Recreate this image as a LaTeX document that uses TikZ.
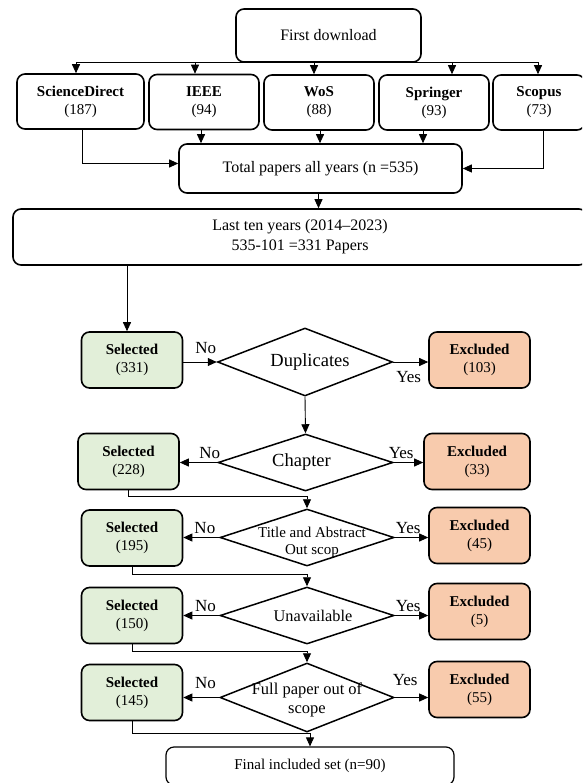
\documentclass[tikz,border=0pt]{standalone}
\usepackage{fontspec}
\setmainfont{Liberation Serif}
\usepackage{xcolor}
\usepackage{tikz}
\usetikzlibrary{arrows.meta,positioning,calc,shapes.geometric}
\definecolor{selgreen}{RGB}{226,239,217}
\definecolor{excorange}{RGB}{248,203,173}
\tikzset{
  box/.style={draw=black, line width=1.6pt, rounded corners=8pt, fill=white, align=center,
    inner sep=0pt, font=\fontsize{16}{20}\selectfont},
  src/.style={box, minimum width=110pt, minimum height=55pt, font=\fontsize{15}{18}\selectfont},
  sel/.style={box, fill=selgreen, minimum width=101pt, minimum height=56pt, font=\fontsize{15}{18}\selectfont},
  exc/.style={box, fill=excorange, minimum width=101pt, minimum height=56pt, font=\fontsize{15}{18}\selectfont},
  % decision diamonds
  decision/.style={draw=black, line width=1.5pt, diamond, inner sep=0pt, fill=white,
    minimum width=175pt, minimum height=57pt},
  dtext/.style={font=\fontsize{18.5}{20}\selectfont, align=center, inner sep=0pt},
  arr/.style={draw=black, line width=0.9pt, -{Triangle[length=9pt,width=8pt]}},
  lbl/.style={font=\fontsize{17}{18}\selectfont, inner sep=3pt}
}
\begin{document}
\begin{tikzpicture}[x=1pt, y=-1pt]
    \useasboundingbox (0,0) rectangle (582,783);
    \clip (0,0) rectangle (582,783);
    % sources
    \node[box, minimum width=185pt, minimum height=53pt] (first) at (328.5,35.5) {First download};
    \node[src, minimum width=127pt] (sd) at (80.5,101.5) {\textbf{ScienceDirect}\\(187)};
    \node[src] (ieee) at (204,102) {\textbf{IEEE}\\(94)};
    \node[src] (wos) at (319,102.5) {\textbf{WoS}\\(88)};
    \node[src] (spr) at (434,102.5) {\textbf{Springer}\\(93)};
    \node[src, minimum width=92pt] (sco) at (539,102.5) {\textbf{Scopus}\\(73)};
    \node[box, minimum width=283pt, minimum height=49pt] (total) at (320.5,168.5) {Total papers all years (n =535)};
    \node[box, minimum width=574pt, minimum height=56pt] (last) at (300,237) {Last ten years (2014--2023)\\535-101 =331 Papers};
    \foreach \n/\dx in {sd/-4.5pt,ieee/-9pt,wos/-5pt,spr/18pt,sco/-1pt}
      \draw[arr] (first.south) -| ([xshift=\dx]\n.north);
    \draw[arr] ([xshift=1.5pt]sd.south) |- ([yshift=5pt]total.west);
    \draw[arr] ([xshift=-3pt]ieee.south) -- ([xshift=-3pt]ieee.south |- total.north);
    \draw[arr] ([xshift=1pt]wos.south) -- ([xshift=1pt]wos.south |- total.north);
    \draw[arr] ([xshift=-11pt]spr.south) -- ([xshift=-11pt]spr.south |- total.north);
    \draw[arr] ([xshift=4pt]sco.south) |- (total.east);
    \draw[arr] ([xshift=-2pt]total.south) -- ([xshift=-2pt]total.south |- last.north);
    % screening rows
    \node[sel] (s1) at (132,360) {\textbf{Selected}\\(331)};
    \node[decision, minimum height=68pt, label={[dtext, xshift=5pt]center:Duplicates}] (d1) at (305,362) {};
    \node[exc] (e1) at (479.5,360) {\textbf{Excluded}\\(103)};
    \node[sel] (s2) at (128.5,461.5) {\textbf{Selected}\\(228)};
    \node[decision, label={[dtext, xshift=-4pt]center:Chapter}] (d2) at (305.5,462.5) {};
    \node[exc, minimum width=106pt] (e2) at (477,461.5) {\textbf{Excluded}\\(33)};
    \node[sel] (s3) at (132,538) {\textbf{Selected}\\(195)};
    \node[decision, minimum width=174pt, label={[dtext, font=\fontsize{15}{17}\selectfont, xshift=5pt, yshift=-5pt]center:{Title and Abstract\\Out scop}}] (d3) at (307,537.5) {};
    \node[exc] (e3) at (479.5,535.5) {\textbf{Excluded}\\(45)};
    \node[sel] (s4) at (132,615.5) {\textbf{Selected}\\(150)};
    \node[decision, minimum width=174pt, label={[dtext, font=\fontsize{16.3}{19}\selectfont, xshift=6pt]center:Unavailable}] (d4) at (307,615.5) {};
    \node[exc] (e4) at (479.5,611.5) {\textbf{Excluded}\\(5)};
    \node[sel] (s5) at (132,692.5) {\textbf{Selected}\\(145)};
    \node[decision, minimum width=174pt, minimum height=69pt, label={[dtext, font=\fontsize{16.5}{19}\selectfont, yshift=-2pt]center:{Full paper out of\\scope}}] (d5) at (307,697.5) {};
    \node[exc] (e5) at (479.5,689.5) {\textbf{Excluded}\\(55)};
    \node[box, line width=1.2pt, minimum width=288pt, minimum height=38pt, font=\fontsize{15}{18}\selectfont] (final) at (310,766) {Final included set (n=90)};
    \draw[arr] ([xshift=-5pt]s1.north |- last.south) -- ([xshift=-5pt]s1.north);
    \draw[arr] (s1.east |- d1.west) -- (d1.west) node[lbl, above=5pt, pos=0.67] {No};
    \draw[arr] (d1.east) -- (d1.east -| e1.west) node[lbl, below=6pt, pos=0.44] {Yes};
    \draw[arr] (d1.south) -- (d2.north);
    \draw[arr] (d2.west) -- (d2.west -| s2.east) node[lbl, above, pos=0.2] {No};
    \draw[arr] (d2.east) -- (d2.east -| e2.west) node[lbl, above, pos=0.25] {Yes};
    \draw[arr] (s2.south) -- ++(0,6) -| (d3.north);
    \draw[arr] (d3.west) -- (d3.west -| s3.east) node[lbl, above, pos=0.4] {No};
    \draw[arr] (d3.east) -- (d3.east -| e3.west) node[lbl, above, pos=0.4] {Yes};
    \draw[arr] (s3.south) -- ++(0,8) -| (d4.north);
    \draw[arr] (d4.west) -- (d4.west -| s4.east) node[lbl, above, pos=0.38] {No};
    \draw[arr] (d4.east) -- (d4.east -| e4.west) node[lbl, above, pos=0.4] {Yes};
    \draw[arr] (s4.south) -- ++(0,7) -| (d5.north);
    \draw[arr] (d5.west) -- (d5.west -| s5.east) node[lbl, above=5pt, pos=0.38] {No};
    \draw[arr] (d5.east) -- (d5.east -| e5.west) node[lbl, above=8pt, pos=0.31] {Yes};
    \draw[arr] (s5.south) -- ++(0,12) -| (final.north);
  \end{tikzpicture}
\end{document}
